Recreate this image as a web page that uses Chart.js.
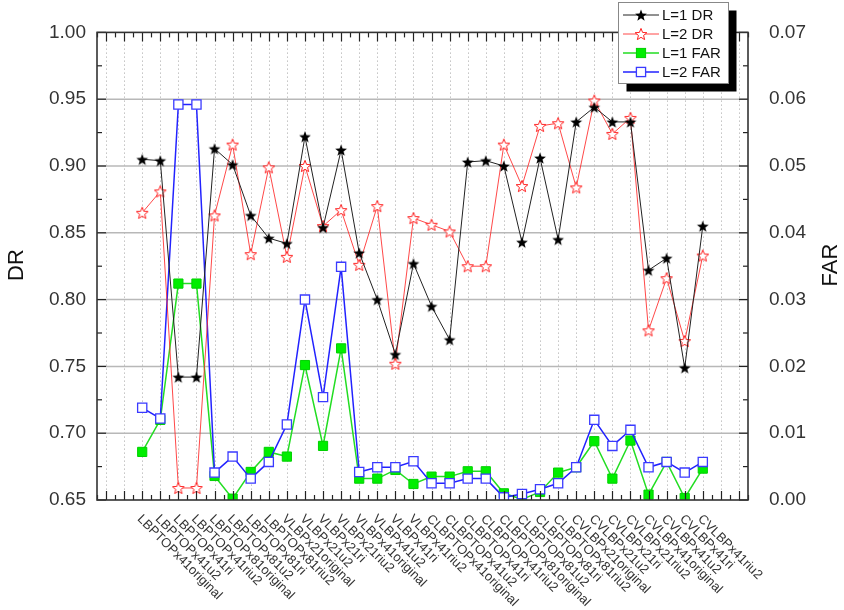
<!DOCTYPE html>
<html>
<head>
<meta charset="utf-8">
<script src="https://cdn.jsdelivr.net/npm/chart.js@4/dist/chart.umd.min.js"></script>
<style>
  html, body { margin: 0; padding: 0; background: #fff; }
  canvas { display: block; }
</style>
</head>
<body>
<canvas id="c" width="844" height="610"></canvas>
<script>
// Descriptor configurations along the x axis
const categories = [
  'LBPTOPx41original', 'LBPTOPx41u2', 'LBPTOPx41ri', 'LBPTOPx41riu2',
  'LBPTOPx81original', 'LBPTOPx81u2', 'LBPTOPx81ri', 'LBPTOPx81riu2',
  'VLBPx21original', 'VLBPx21u2', 'VLBPx21ri', 'VLBPx21riu2',
  'VLBPx41original', 'VLBPx41u2', 'VLBPx41ri', 'VLBPx41riu2',
  'CLBPTOPx41original', 'CLBPTOPx41u2', 'CLBPTOPx41ri', 'CLBPTOPx41riu2',
  'CLBPTOPx81original', 'CLBPTOPx81u2', 'CLBPTOPx81ri', 'CLBPTOPx81riu2',
  'CVLBPx21original', 'CVLBPx21u2', 'CVLBPx21ri', 'CVLBPx21riu2',
  'CVLBPx41original', 'CVLBPx41u2', 'CVLBPx41ri', 'CVLBPx41riu2'
];

// Detection rate (left axis)
const drL1 = [0.905, 0.904, 0.742, 0.742, 0.913, 0.901, 0.863, 0.846,
              0.842, 0.922, 0.854, 0.912, 0.835, 0.800, 0.759, 0.827,
              0.795, 0.770, 0.903, 0.904, 0.900, 0.843, 0.906, 0.845,
              0.933, 0.944, 0.933, 0.933, 0.822, 0.831, 0.749, 0.855];
const drL2 = [0.865, 0.881, 0.659, 0.659, 0.863, 0.916, 0.834, 0.899,
              0.832, 0.900, 0.855, 0.867, 0.826, 0.870, 0.752, 0.861,
              0.856, 0.851, 0.825, 0.825, 0.916, 0.885, 0.930, 0.932,
              0.884, 0.949, 0.924, 0.936, 0.777, 0.816, 0.769, 0.833];

// False alarm rate (right axis)
const farL1 = [0.0072, 0.0120, 0.0324, 0.0324, 0.0036, 0.0002, 0.0042, 0.0072,
               0.0065, 0.0202, 0.0081, 0.0227, 0.0032, 0.0032, 0.0045, 0.0024,
               0.0035, 0.0035, 0.0043, 0.0043, 0.0010, 0.0001, 0.0012, 0.0041,
               0.0049, 0.0088, 0.0032, 0.0089, 0.0008, 0.0057, 0.0003, 0.0047];
const farL2 = [0.0138, 0.0122, 0.0592, 0.0592, 0.0041, 0.0065, 0.0032, 0.0057,
               0.0113, 0.0300, 0.0154, 0.0349, 0.0042, 0.0049, 0.0049, 0.0058,
               0.0025, 0.0025, 0.0032, 0.0032, 0.0004, 0.0009, 0.0016, 0.0025,
               0.0049, 0.0120, 0.0081, 0.0105, 0.0049, 0.0057, 0.0041, 0.0057];

const seriesNames = ['L=1 DR', 'L=2 DR', 'L=1 FAR', 'L=2 FAR'];
const drTicks = [0.65, 0.70, 0.75, 0.80, 0.85, 0.90, 0.95, 1.00];
const farTicks = [0.00, 0.01, 0.02, 0.03, 0.04, 0.05, 0.06, 0.07];

const FONT = '"Liberation Sans", Arial, Helvetica, sans-serif';

// Five-pointed star marker drawn on a small canvas
function makeStar(outerR, innerR, fill, stroke, lw) {
  const size = Math.ceil(outerR * 2 + 3);
  const cv = document.createElement('canvas');
  cv.width = size; cv.height = size;
  const g = cv.getContext('2d');
  const cx = size / 2, cy = size / 2 + outerR * 0.1;
  g.beginPath();
  for (let k = 0; k < 10; k++) {
    const r = k % 2 === 0 ? outerR : innerR;
    const ang = -Math.PI / 2 + k * Math.PI / 5;
    const px = cx + r * Math.cos(ang), py = cy + r * Math.sin(ang);
    if (k === 0) g.moveTo(px, py); else g.lineTo(px, py);
  }
  g.closePath();
  g.fillStyle = fill; g.fill();
  if (stroke) { g.strokeStyle = stroke; g.lineWidth = lw; g.lineJoin = 'miter'; g.stroke(); }
  return cv;
}

const starBlack = makeStar(6.2, 2.6, '#000', null, 0);
const starRed = makeStar(6.2, 2.7, '#fff', '#ff2020', 1);

const toPoints = arr => arr.map((v, i) => ({ x: i, y: v }));

const datasets = [
  {
    label: seriesNames[0], data: toPoints(drL1), yAxisID: 'y',
    borderColor: '#222', borderWidth: 1, pointStyle: starBlack, pointRadius: 6,
    backgroundColor: '#000', order: 0, clip: 0
  },
  {
    label: seriesNames[1], data: toPoints(drL2), yAxisID: 'y',
    borderColor: 'rgba(255,40,40,0.85)', borderWidth: 1, pointStyle: starRed, pointRadius: 6,
    backgroundColor: '#fff', order: 1, clip: 0
  },
  {
    label: seriesNames[2], data: toPoints(farL1), yAxisID: 'y2',
    borderColor: '#22dd22', borderWidth: 1.5, pointStyle: 'rect', pointRadius: 6.5,
    pointBackgroundColor: '#00ee00', pointBorderColor: '#00d000', pointBorderWidth: 1,
    order: 3, clip: 0
  },
  {
    label: seriesNames[3], data: toPoints(farL2), yAxisID: 'y2',
    borderColor: '#2222ff', borderWidth: 1.5, pointStyle: 'rect', pointRadius: 6.5,
    pointBackgroundColor: '#fff', pointBorderColor: '#3a3aff', pointBorderWidth: 1.3,
    order: 2, clip: 0
  }
];

// Grid, inward tick marks, frame, axis titles, rotated category labels and legend
const decor = {
  id: 'decor',
  beforeDatasetsDraw(chart) {
    const { ctx, chartArea: a, scales: { x, y } } = chart;
    ctx.save();
    ctx.strokeStyle = '#c2c2c2';
    ctx.lineWidth = 1;
    ctx.setLineDash([1.5, 2.5]);
    for (let v = Math.ceil(x.min); v <= x.max; v++) {
      const px = Math.round(x.getPixelForValue(v)) + 0.5;
      ctx.beginPath(); ctx.moveTo(px, a.top); ctx.lineTo(px, a.bottom); ctx.stroke();
    }
    ctx.setLineDash([]);
    ctx.strokeStyle = '#b8b8b8';
    ctx.lineWidth = 1.5;
    for (const t of y.ticks) {
      if (t.value <= y.min + 1e-9 || t.value >= y.max - 1e-9) continue;
      const py = y.getPixelForValue(t.value);
      ctx.beginPath(); ctx.moveTo(a.left, py); ctx.lineTo(a.right, py); ctx.stroke();
    }
    ctx.restore();
  },
  afterDatasetsDraw(chart) {
    const { ctx, chartArea: a, scales: { x, y, y2 } } = chart;
    ctx.save();
    ctx.strokeStyle = '#222';
    ctx.lineWidth = 1.2;
    const MAJ = 9, MIN = 5;
    // left and right axes
    const vTicks = (scale, side) => {
      const vals = scale.ticks.map(t => t.value);
      for (let k = 0; k < vals.length; k++) {
        const py = scale.getPixelForValue(vals[k]);
        const dir = side === 'left' ? 1 : -1;
        const x0 = side === 'left' ? a.left : a.right;
        ctx.beginPath(); ctx.moveTo(x0, py); ctx.lineTo(x0 + dir * MAJ, py); ctx.stroke();
        if (k < vals.length - 1) {
          const pm = scale.getPixelForValue((vals[k] + vals[k + 1]) / 2);
          ctx.beginPath(); ctx.moveTo(x0, pm); ctx.lineTo(x0 + dir * MIN, pm); ctx.stroke();
        }
      }
    };
    vTicks(y, 'left');
    vTicks(y2, 'right');
    // bottom and top axes
    for (let v = Math.ceil(x.min * 2) / 2; v <= x.max; v += 0.5) {
      const px = Math.round(x.getPixelForValue(v)) + 0.5;
      const len = Number.isInteger(v) ? MAJ : MIN;
      ctx.beginPath(); ctx.moveTo(px, a.bottom); ctx.lineTo(px, a.bottom - len); ctx.stroke();
      ctx.beginPath(); ctx.moveTo(px, a.top); ctx.lineTo(px, a.top + len); ctx.stroke();
    }
    ctx.lineWidth = 1.6;
    ctx.strokeStyle = '#333';
    ctx.strokeRect(a.left, a.top, a.right - a.left, a.bottom - a.top);
    ctx.restore();
  },
  afterDraw(chart) {
    const { ctx, chartArea: a, scales: { x } } = chart;
    ctx.save();
    // axis titles
    ctx.fillStyle = '#111';
    ctx.font = '22px ' + FONT;
    ctx.textAlign = 'center';
    ctx.textBaseline = 'middle';
    ctx.save(); ctx.translate(17, 265); ctx.rotate(-Math.PI / 2); ctx.fillText('DR', 0, 0); ctx.restore();
    ctx.save(); ctx.translate(831, 265); ctx.rotate(-Math.PI / 2); ctx.fillText('FAR', 0, 0); ctx.restore();

    // rotated category labels
    ctx.fillStyle = '#333';
    ctx.font = '13px ' + FONT;
    ctx.textAlign = 'left';
    ctx.textBaseline = 'middle';
    categories.forEach((name, i) => {
      const px = x.getPixelForValue(i);
      ctx.save();
      ctx.translate(px - 3, a.bottom + 17);
      ctx.rotate(Math.PI / 4);
      ctx.fillText(name, 0, 0);
      ctx.restore();
    });

    // legend box with drop shadow
    const bx = 618.5, by = 2.5, bw = 110, bh = 81;
    ctx.fillStyle = '#000';
    ctx.fillRect(bx + 8, by + 8, bw, bh);
    ctx.fillStyle = '#fff';
    ctx.fillRect(bx, by, bw, bh);
    ctx.strokeStyle = '#888';
    ctx.lineWidth = 1;
    ctx.strokeRect(bx, by, bw, bh);
    const rows = [15, 34, 53, 72];
    ctx.font = '15px ' + FONT;
    ctx.textAlign = 'left';
    ctx.textBaseline = 'middle';
    chart.data.datasets.forEach((ds, k) => {
      const ry = rows[k];
      ctx.strokeStyle = ds.borderColor;
      ctx.lineWidth = ds.borderWidth;
      ctx.beginPath(); ctx.moveTo(623, ry); ctx.lineTo(659, ry); ctx.stroke();
      if (typeof ds.pointStyle === 'object') {
        const im = ds.pointStyle;
        ctx.drawImage(im, 641 - im.width / 2, ry - im.height / 2);
      } else {
        const s = ds.pointRadius * Math.SQRT1_2;
        ctx.fillStyle = ds.pointBackgroundColor;
        ctx.fillRect(641 - s, ry - s, 2 * s, 2 * s);
        ctx.strokeStyle = ds.pointBorderColor;
        ctx.lineWidth = ds.pointBorderWidth;
        ctx.strokeRect(641 - s, ry - s, 2 * s, 2 * s);
      }
      ctx.fillStyle = '#111';
      ctx.fillText(ds.label, 662, ry + 1);
    });
    ctx.restore();
  }
};

new Chart(document.getElementById('c'), {
  type: 'line',
  data: { datasets },
  plugins: [decor],
  options: {
    responsive: false,
    animation: false,
    layout: { padding: { top: 31, left: 0, right: 0, bottom: 0 } },
    plugins: { legend: { display: false }, tooltip: { enabled: false } },
    elements: { line: { tension: 0 } },
    scales: {
      x: {
        type: 'linear', min: -2.5, max: 33.5,
        ticks: { display: false, stepSize: 1 },
        grid: { display: false, drawTicks: false },
        border: { display: false },
        afterFit(s) { s.height = 110; }
      },
      y: {
        position: 'left', min: 0.65, max: 1.0,
        afterBuildTicks(s) { s.ticks = drTicks.map(v => ({ value: v })); },
        ticks: {
          padding: 11, color: '#333',
          font: { family: FONT, size: 19 },
          callback: v => Number(v).toFixed(2)
        },
        grid: { display: false, drawTicks: false },
        border: { display: false },
        afterFit(s) { s.width = 97; }
      },
      y2: {
        position: 'right', min: 0, max: 0.07,
        afterBuildTicks(s) { s.ticks = farTicks.map(v => ({ value: v })); },
        ticks: {
          padding: 21, color: '#333',
          font: { family: FONT, size: 19 },
          callback: v => Number(v).toFixed(2)
        },
        grid: { display: false, drawTicks: false },
        border: { display: false },
        afterFit(s) { s.width = 96; }
      }
    }
  }
});
</script>
</body>
</html>
